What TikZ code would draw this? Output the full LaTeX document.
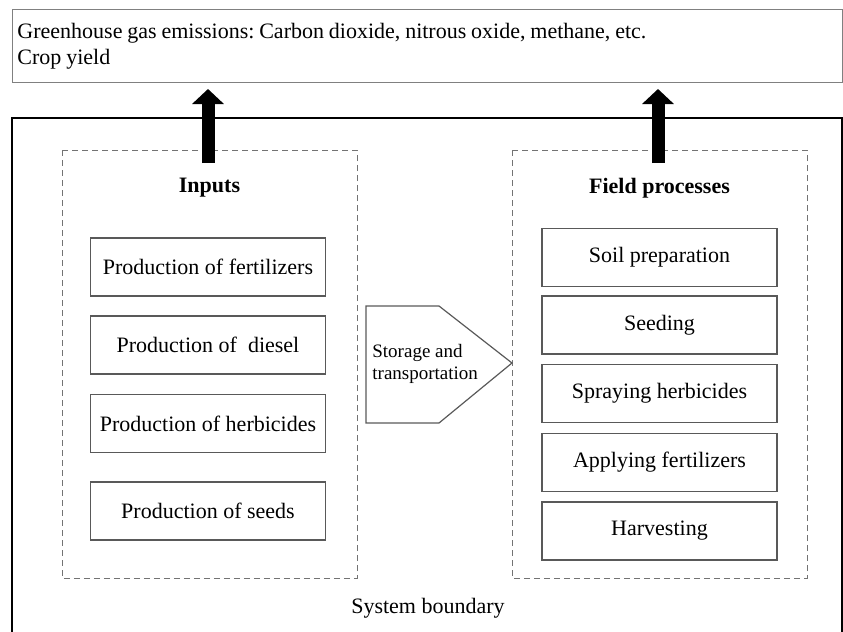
\documentclass[tikz,border=0pt]{standalone}
\usepackage{fontspec}
\setmainfont{Liberation Serif}
\usepackage{tikz}
\usetikzlibrary{arrows.meta}
\usetikzlibrary{positioning}
\frenchspacing
\newcommand{\tightsp}{\spaceskip=0.22em\relax}

\tikzset{
  procbox/.style={draw=black!65, line width=0.6pt, minimum width=117.5pt,
    minimum height=29pt, inner sep=0pt, font=\fontsize{11}{13}\selectfont},
  grouplbl/.style={font=\fontsize{11}{13}\selectfont\bfseries},
  groupframe/.style={draw=black!55, line width=0.5pt, dash pattern=on 3pt off 2pt},
  flowarrow/.style={line width=6.5pt, -{Triangle[width=15.5pt,length=7.5pt]}, shorten >=3pt},
}

\begin{document}
\begin{tikzpicture}[x=0.5pt, y=-0.5pt]
\useasboundingbox (0,0) rectangle (843,632);
%Emissions
\node[draw=black!50, line width=0.5pt, anchor=north west, minimum width=415pt,
  minimum height=36.5pt, inner xsep=2.5pt, text width=410pt, align=left,
  font=\fontsize{11}{13}\selectfont] (emis) at (12,9)
  {\tightsp Greenhouse gas emissions: Carbon dioxide, nitrous oxide, methane, etc.\\Crop yield};

%System boundary
\draw[line width=0.6pt] (12,640) -- (12,118) -- (842,118) -- (842,640);
\node[font=\fontsize{11}{13}\selectfont] (sysb) at (428,608) {System boundary};

%Inputs
\begin{scope}
  \draw[groupframe] (62,150) rectangle (357,578);
  \node[grouplbl] (inlbl) at (209.5,188) {Inputs};
  \foreach \y/\nm/\txt in {267/fert/Production of fertilizers,
                           345/dies/Production of~ diesel,
                           423.5/herb/Production of herbicides,
                           511/seed/Production of seeds} {
    \node[procbox] (\nm) at (208,\y) {\txt};
  }
\end{scope}

%Field processes
\begin{scope}
  \draw[groupframe] (512,150) rectangle (807,578);
  \node[grouplbl] (fplbl) at (659.5,188) {Field processes};
  \foreach \y/\nm/\txt in {257.5/soil/Soil preparation,
                           325/sow/Seeding,
                           393.5/spray/Spraying herbicides,
                           462.5/apply/Applying fertilizers,
                           531/harv/Harvesting} {
    \node[procbox] (\nm) at (659.5,\y) {\txt};
  }
\end{scope}

%Storage
\draw[draw=black!65, line width=0.6pt] (366,306) -- (439,306) -- (512,363)
  -- (439,423) -- (366,423) -- cycle;
\node[anchor=west, align=left, inner sep=0pt, font=\fontsize{9.5}{11}\selectfont]
  (store) at (372,364) {Storage and\\transportation};

%Outputs
\coordinate (inup) at (208,163);
\coordinate (fpup) at (658,163);
\draw[flowarrow] (inup) -- (inup |- emis.south);
\draw[flowarrow] (fpup) -- (fpup |- emis.south);
\end{tikzpicture}
\end{document}
